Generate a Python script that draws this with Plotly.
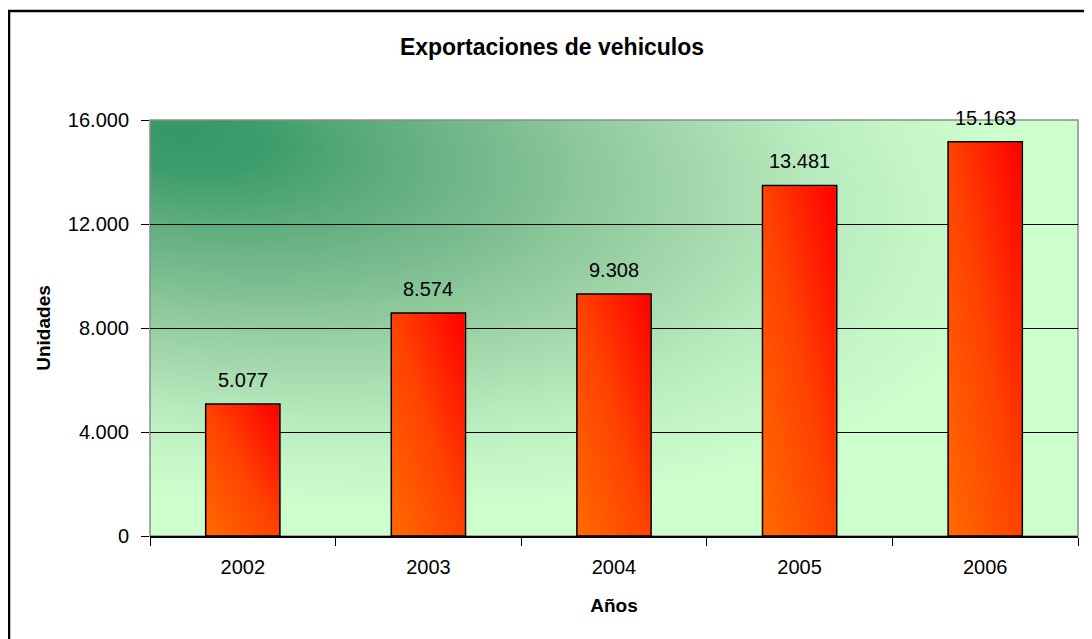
import base64
import plotly.graph_objects as go

# ---- data ----
years = ["2002", "2003", "2004", "2005", "2006"]
units = [5077, 8574, 9308, 13481, 15163]
y_ticks = [0, 4000, 8000, 12000, 16000]

title_text = "Exportaciones de vehiculos"
x_title = "Años"
y_title = "Unidades"

# ---- layout constants (page body has an 8px margin, so figure is 8px smaller) ----
OFF = 8
W, H = 1092 - OFF, 639 - OFF
ML, MR, MT, MB = 150 - OFF, 14, 120 - OFF, 103
PW, PH = W - ML - MR, H - MT - MB
Y_MAX = 16000
BAR_W = 0.4
FONT = "Liberation Sans"


def svg_uri(svg):
    return "data:image/svg+xml;base64," + base64.b64encode(svg.encode("utf-8")).decode("ascii")


bg_svg = (
    '<svg xmlns="http://www.w3.org/2000/svg" width="928" height="416" viewBox="0 0 1 1" '
    'preserveAspectRatio="none"><defs>'
    '<radialGradient id="g" gradientUnits="userSpaceOnUse" cx="0" cy="0" r="1" '
    'gradientTransform="translate(0.03 0.03) rotate(45) scale(1.02 0.78)">'
    '<stop offset="0" stop-color="#339966"/>'
    '<stop offset="0.1" stop-color="#3c9c6b"/>'
    '<stop offset="0.25" stop-color="#5fad7e"/>'
    '<stop offset="0.4" stop-color="#7cbd90"/>'
    '<stop offset="0.5" stop-color="#8fca9c"/>'
    '<stop offset="0.62" stop-color="#a4d8ac"/>'
    '<stop offset="0.75" stop-color="#b6eabd"/>'
    '<stop offset="0.88" stop-color="#c4f6c6"/>'
    '<stop offset="1" stop-color="#ccffcc"/>'
    '</radialGradient></defs>'
    '<rect x="0" y="0" width="1" height="1" fill="url(#g)"/></svg>'
)

bar_svg = (
    '<svg xmlns="http://www.w3.org/2000/svg" width="74" height="400" viewBox="0 0 100 100" '
    'preserveAspectRatio="none"><defs>'
    '<linearGradient id="b" gradientUnits="objectBoundingBox" x1="0" y1="1" x2="1" y2="0">'
    '<stop offset="0" stop-color="#ff6a00"/>'
    '<stop offset="0.5" stop-color="#ff4200"/>'
    '<stop offset="1" stop-color="#ff0000"/>'
    '</linearGradient></defs>'
    '<rect x="0" y="0" width="100" height="100" fill="url(#b)"/></svg>'
)

fig = go.Figure()
fig.add_trace(go.Bar(
    x=years, y=units,
    marker=dict(color="#ff4000", line=dict(color="black", width=1.5)),
    width=BAR_W,
    hoverinfo="x+y",
))

images = [dict(source=svg_uri(bg_svg), xref="paper", yref="paper", x=0, y=1,
               sizex=1, sizey=1, xanchor="left", yanchor="top",
               sizing="stretch", layer="below")]

# gradient shading of each bar, placed in data coordinates (inset by ~1px)
dx = 1.0 / (PW / len(years))
dy = Y_MAX / PH
for i, v in enumerate(units):
    images.append(dict(
        source=svg_uri(bar_svg), xref="x", yref="y",
        x=i - BAR_W / 2 + dx, y=v - dy,
        sizex=BAR_W - 2 * dx, sizey=v - 2 * dy,
        xanchor="left", yanchor="top", sizing="stretch", layer="above",
    ))

annotations = []
for i, v in enumerate(units):
    annotations.append(dict(
        x=i, y=v, xref="x", yref="y",
        text=f"{v:,}".replace(",", "."),
        showarrow=False, yanchor="middle", yshift=24,
        font=dict(family=FONT, size=20, color="black"),
    ))

shapes = [
    # plot area border
    dict(type="rect", xref="paper", yref="paper", x0=0, y0=0, x1=1, y1=1,
         line=dict(color="#8c8c8c", width=1.5), layer="below"),
    # chart area border
    dict(type="rect", xref="paper", yref="paper",
         x0=(1 - ML) / PW, x1=(W + 20 - ML) / PW,
         y0=-(H + 20 - MT - PH) / PH, y1=(MT + PH - 3) / PH,
         line=dict(color="black", width=2.5)),
]

fig.update_layout(
    template="none",
    width=W, height=H, autosize=False,
    margin=dict(l=ML, r=MR, t=MT, b=MB, pad=0),
    paper_bgcolor="white", plot_bgcolor="rgba(0,0,0,0)",
    separators=",.",
    bargap=0.6,
    showlegend=False,
    font=dict(family=FONT, color="black"),
    title=dict(text=title_text, x=(552 - OFF) / W, xref="container", xanchor="center",
               y=1 - (47 - OFF) / H, yref="container", yanchor="middle",
               font=dict(family=FONT, size=23, weight="bold", color="black")),
    xaxis=dict(
        type="category", categoryorder="array", categoryarray=years,
        tickson="boundaries", ticks="outside", ticklen=8, tickwidth=1, tickcolor="black",
        showline=True, linecolor="black", linewidth=1.5,
        showgrid=False, zeroline=False, automargin=False,
        tickfont=dict(family=FONT, size=20, color="black"),
        ticklabelstandoff=12,
        title=dict(text=x_title, standoff=22,
                   font=dict(family=FONT, size=19, weight="bold", color="black")),
    ),
    yaxis=dict(
        range=[0, Y_MAX], tickvals=y_ticks, tickformat=",d",
        ticks="outside", ticklen=8, tickwidth=1, tickcolor="black",
        showgrid=True, gridcolor="black", gridwidth=1,
        showline=False, zeroline=False, automargin=False,
        tickfont=dict(family=FONT, size=20, color="black"),
        ticklabelstandoff=8,
        title=dict(text=y_title, standoff=12,
                   font=dict(family=FONT, size=19, weight="bold", color="black")),
    ),
    images=images,
    annotations=annotations,
    shapes=shapes,
)

fig.write_html("out.html")
